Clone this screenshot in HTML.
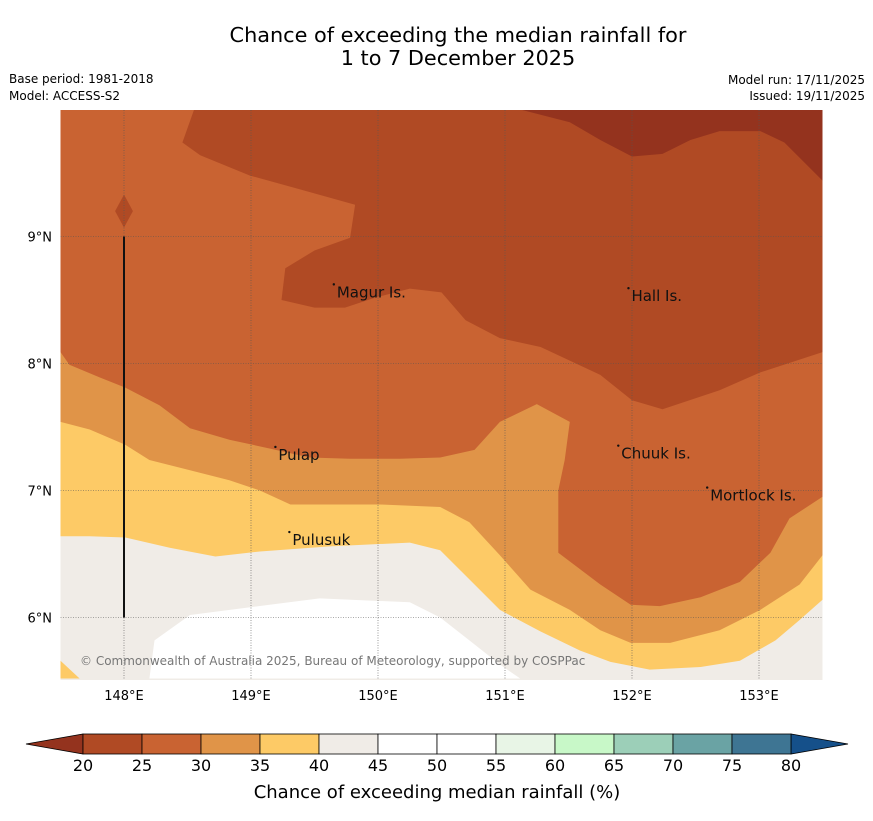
<!DOCTYPE html>
<html><head><meta charset="utf-8"><style>
body{margin:0;background:#fff;width:873px;height:816px;overflow:hidden;font-family:"Liberation Sans",sans-serif}
svg text{font-family:"DejaVu Sans","Liberation Sans",sans-serif}
</style></head><body>
<svg id="chart" width="873" height="816" xmlns="http://www.w3.org/2000/svg">
<text x="458" y="42" font-size="20.8" text-anchor="middle">Chance of exceeding the median rainfall for</text>
<text x="458" y="65" font-size="20.8" text-anchor="middle">1 to 7 December 2025</text>
<text x="9" y="83" font-size="12">Base period: 1981-2018</text>
<text x="9" y="100" font-size="12">Model: ACCESS-S2</text>
<text x="865" y="84" font-size="12" text-anchor="end">Model run: 17/11/2025</text>
<text x="865" y="100" font-size="12" text-anchor="end">Issued: 19/11/2025</text>
<defs><clipPath id="mapclip"><rect x="60.5" y="110" width="762" height="570"/></clipPath></defs>
<g id="map" clip-path="url(#mapclip)"></g>
<g id="overlay"></g>
<g id="cbar"></g>
<text x="437" y="798" font-size="18" text-anchor="middle">Chance of exceeding median rainfall (%)</text>
</svg>
<script>
const lonTicks=[148,149,150,151,152,153];
const latTicks=[6,7,8,9];
const cbLevels=[20,25,30,35,40,45,50,55,60,65,70,75,80];
const cbColors=["#b04a24","#c96332","#e09448","#fdca66","#f0ece7","#ffffff","#ffffff","#e8f5e6","#c8f8c8","#9ccfb8","#6aa3a4","#3e7593"];
const whiteHole=[[148.20,5.52],[148.24,5.82],[148.52,6.02],[149.54,6.15],[150.25,6.12],[150.49,6.00],[150.72,5.82],[150.96,5.63],[151.12,5.52]];
const yellowCorner=[[147.5,5.66],[147.65,5.52],[147.5,5.52]];
const edge35=[[147.5,6.64],[147.73,6.64],[148.01,6.63],[148.36,6.55],[148.72,6.48],[149.07,6.52],[149.62,6.56],[150.25,6.59],[150.49,6.53],[150.72,6.30],[150.96,6.06],[151.28,5.89],[151.59,5.74],[151.83,5.65],[152.14,5.59],[152.54,5.61],[152.85,5.66],[153.13,5.82],[153.32,5.98],[153.5,6.14]];
const edge30=[[147.5,7.54],[147.73,7.48],[148.01,7.36],[148.20,7.24],[148.52,7.16],[148.83,7.08],[149.07,7.00],[149.31,6.89],[149.70,6.89],[150.02,6.89],[150.49,6.87],[150.72,6.75],[150.96,6.49],[151.20,6.22],[151.51,6.06],[151.75,5.90],[151.99,5.80],[152.30,5.80],[152.69,5.90],[153.01,6.06],[153.32,6.26],[153.5,6.49]];
const edge25=[[147.5,8.09],[147.57,7.99],[147.81,7.89],[148.01,7.81],[148.28,7.67],[148.52,7.49],[148.83,7.40],[149.15,7.33],[149.46,7.26],[149.78,7.25],[150.17,7.25],[150.49,7.26],[150.76,7.32],[150.96,7.54],[151.25,7.68],[151.51,7.54],[151.47,7.24],[151.42,7.00],[151.42,6.51],[151.75,6.26],[151.99,6.10],[152.22,6.09],[152.54,6.16],[152.85,6.28],[153.09,6.51],[153.24,6.78],[153.5,6.95]];
const region20=[[148.57,10.05],[148.46,9.74],[148.60,9.64],[148.99,9.48],[149.39,9.37],[149.82,9.25],[149.78,8.99],[149.50,8.89],[149.27,8.75],[149.24,8.50],[149.50,8.44],[149.74,8.44],[149.98,8.52],[150.25,8.59],[150.50,8.56],[150.69,8.34],[150.96,8.20],[151.28,8.13],[151.75,7.91],[152.0,7.71],[152.24,7.64],[152.69,7.79],[153.01,7.93],[153.5,8.09],[153.5,10.05]];
const diamond=[[148,9.33],[148.07,9.2],[148,9.07],[147.93,9.2]];
const regionLow=[[151.12,10.05],[151.12,10.0],[151.51,9.90],[151.75,9.76],[152.0,9.63],[152.24,9.65],[152.46,9.76],[152.69,9.83],[153.01,9.83],[153.20,9.74],[153.5,9.44],[153.5,10.05]];
const places=[["Magur Is.",149.66,8.56],["Hall Is.",151.98,8.53],["Pulap",149.2,7.28],["Chuuk Is.",151.9,7.29],["Mortlock Is.",152.6,6.96],["Pulusuk",149.31,6.61]];
const NS="http://www.w3.org/2000/svg";
const X=lon=>60.5+(lon-147.5)*127;
const Y=lat=>109.5+(10-lat)*127;
function el(tag,attrs,parent){const e=document.createElementNS(NS,tag);for(const k in attrs)e.setAttribute(k,attrs[k]);parent.appendChild(e);return e;}
const mapG=document.getElementById('map'),ov=document.getElementById('overlay'),cb=document.getElementById('cbar');
const pts=a=>a.map(p=>X(p[0]).toFixed(1)+','+Y(p[1]).toFixed(1)).join(' ');
const topEdge=[[153.6,10.1],[147.4,10.1]];
const bg=el('rect',{x:60.5,y:110,width:762,height:570,fill:"#f0ece7"},mapG);


function poly(arr,fill,name){const p=el('polygon',{points:pts(arr),fill:fill},mapG);

}
poly(whiteHole,"#ffffff","region-45-55");
poly(yellowCorner,"#fdca66","region-35-40-corner");
poly([[147.4,edge35[0][1]]].concat(edge35,[[153.6,edge35[edge35.length-1][1]]],topEdge),"#fdca66","region-35-40");
poly([[147.4,edge30[0][1]]].concat(edge30,[[153.6,edge30[edge30.length-1][1]]],topEdge),"#e09448","region-30-35");
poly([[147.4,edge25[0][1]]].concat(edge25,[[153.6,edge25[edge25.length-1][1]]],topEdge),"#c96332","region-25-30");
poly(region20,"#b04a24","region-20-25");
poly(diamond,"#b04a24","region-20-25-diamond");
poly(regionLow,"#94331e","region-below-20");
lonTicks.forEach(l=>{const g=el('line',{x1:X(l),x2:X(l),y1:110,y2:680,stroke:"#555",'stroke-width':0.6,'stroke-dasharray':"1,1.5"},ov);


const t=el('text',{x:X(l),y:700,'font-size':13,'text-anchor':'middle'},ov);t.textContent=l+"°E";

});
latTicks.forEach(l=>{const g=el('line',{x1:60.5,x2:822.5,y1:Y(l),y2:Y(l),stroke:"#555",'stroke-width':0.6,'stroke-dasharray':"1,1.5"},ov);


const t=el('text',{x:52,y:Y(l)+5,'font-size':13,'text-anchor':'end'},ov);t.textContent=l+"°N";

});
const vl=el('line',{x1:X(148),x2:X(148),y1:Y(9),y2:Y(6),stroke:"#111",'stroke-width':2},ov);


places.forEach(p=>{const t=el('text',{x:X(p[1])+2,y:Y(p[2])+5,'font-size':15,fill:"#111"},ov);t.textContent=p[0];


const d=el('circle',{cx:X(p[1])-1,cy:Y(p[2])-8,r:1.2,fill:"#111"},ov);

});
const cp=el('text',{x:80,y:665,'font-size':12,fill:"#777"},ov);cp.textContent="© Commonwealth of Australia 2025, Bureau of Meteorology, supported by COSPPac";


const cx=v=>83+(v-20)/5*59, y0=734,h=20;
const lt=el('polygon',{points:`26,${y0+h/2} 83,${y0} 83,${y0+h}`,fill:"#94331e",stroke:"#000",'stroke-width':0.8},cb);


const rt=el('polygon',{points:`848,${y0+h/2} 791,${y0} 791,${y0+h}`,fill:"#15508a",stroke:"#000",'stroke-width':0.8},cb);


cbColors.forEach((c,i)=>{const s=el('rect',{x:cx(cbLevels[i]),y:y0,width:cx(cbLevels[i+1])-cx(cbLevels[i]),height:h,fill:c,stroke:"#000",'stroke-width':0.8},cb);

});
cbLevels.forEach(v=>{const t=el('text',{x:cx(v),y:771,'font-size':16,'text-anchor':'middle'},cb);t.textContent=v;

});
</script>
</body></html>
